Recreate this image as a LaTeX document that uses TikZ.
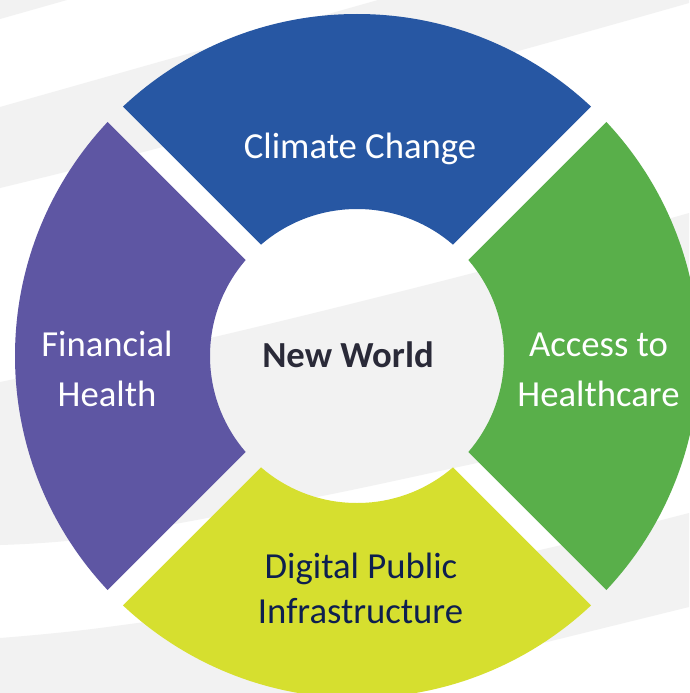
\documentclass[tikz,border=0pt]{standalone}
\usepackage{fontspec}
\setmainfont{Carlito}
\usetikzlibrary{calc}
\definecolor{bgray}{HTML}{F2F2F2}
\definecolor{cblue}{HTML}{2757A3}
\definecolor{cpurple}{HTML}{5E56A3}
\definecolor{cgreen}{HTML}{59AF4A}
\definecolor{cyellow}{HTML}{D6DF2F}
\definecolor{cnavy}{HTML}{0E1F4F}
\definecolor{cdark}{HTML}{2A2A38}
\tikzset{
  lbl/.style={inner sep=0pt, anchor=base, font=\fontsize{36.7}{44}\selectfont, text=white},
  lbldark/.style={lbl, text=cnavy},
  centerlbl/.style={inner sep=0pt, anchor=base, font=\fontsize{36.7}{44}\selectfont\bfseries, text=cdark},
  ring/.style={even odd rule}
}
\begin{document}
\begin{tikzpicture}[x=1pt,y=-1pt]
\useasboundingbox (0,0) rectangle (689,693);
\fill[white] (0,0) rectangle (689,693);
% background bands
\fill[bgray] (0,0) -- (67,0) -- (0,19) -- cycle;
\fill[bgray] (0,107) -- (378,0) -- (689,0) -- (689,3) .. controls (560,40) and (200,140) .. (0,188) -- cycle;
\fill[bgray] plot[smooth] coordinates {(0,382) (210,338) (477,272) (689,213)}
  -- plot[smooth] coordinates {(689,418) (477,463) (317,497) (100,537) (0,545)} -- cycle;
\fill[bgray] plot[smooth] coordinates {(0,638) (100,628) (320,596) (540,550) (689,513)}
  -- (689,607) -- (543,643) -- (343,693) -- (0,693) -- cycle;

\coordinate (C) at (357,356);
% top segment
\begin{scope}
\clip ($(C)+(0,-15.3)$) -- ++(-420,-420) -- ++(840,0) -- cycle;
\fill[cblue, ring] (C) circle[radius=342] (C) circle[radius=147];
\end{scope}
% left segment
\begin{scope}
\clip ($(C)+(-15.3,0)$) -- ++(-420,-420) -- ++(0,840) -- cycle;
\fill[cpurple, ring] (C) circle[radius=342] (C) circle[radius=147];
\end{scope}
% right segment
\begin{scope}
\clip ($(C)+(15.3,0)$) -- ++(420,-420) -- ++(0,840) -- cycle;
\fill[cgreen, ring] (C) circle[radius=342] (C) circle[radius=147];
\end{scope}
% bottom segment
\begin{scope}
\clip ($(C)+(0,15.3)$) -- ++(-420,420) -- ++(840,0) -- cycle;
\fill[cyellow, ring] (C) circle[radius=342] (C) circle[radius=147];
\end{scope}

\node[lbl] (climate) at (360,158) {Climate Change};
\node[centerlbl] (newworld) at (348,367) {New World};
\node[lbl] (fin1) at (107,356) {Financial};
\node[lbl] (fin2) at (107,406) {Health};
\node[lbl] (acc1) at (598.5,356) {Access to};
\node[lbl] (acc2) at (598.5,406) {Healthcare};
\node[lbldark] (dig1) at (361,578) {Digital Public};
\node[lbldark] (dig2) at (360.5,623) {Infrastructure};
\end{tikzpicture}
\end{document}
